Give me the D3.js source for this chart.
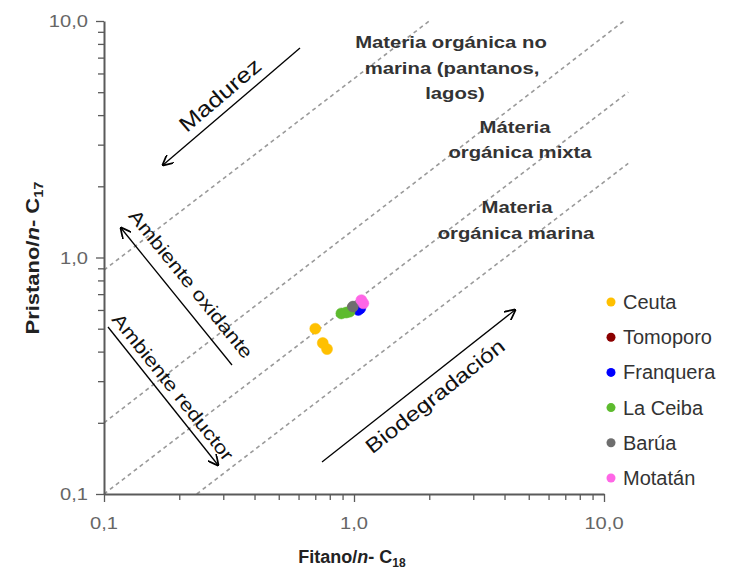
<!DOCTYPE html>
<html>
<head>
<meta charset="utf-8">
<script src="https://cdn.jsdelivr.net/npm/d3@7"></script>
<style>
  html, body { margin: 0; padding: 0; background: #fff; }
  svg { display: block; font-family: "Liberation Sans", Arial, sans-serif; }
</style>
</head>
<body>
<svg id="chart" width="740" height="577"></svg>
<script>
// Sample groups and their Pristano/n-C17 vs Fitano/n-C18 ratios
const categories = ["Ceuta", "Tomoporo", "Franquera", "La Ceiba", "Barúa", "Motatán"];
const ceutaFit = [0.70, 0.75, 0.78],       ceutaPri = [0.50, 0.435, 0.41];
const tomoporoFit = [0.99],                tomoporoPri = [0.615];
const franqueraFit = [1.04, 1.06],         franqueraPri = [0.60, 0.61];
const laCeibaFit = [0.89, 0.93, 0.96],     laCeibaPri = [0.58, 0.585, 0.59];
const baruaFit = [0.99],                   baruaPri = [0.62];
const motatanFit = [1.07, 1.09],           motatanPri = [0.66, 0.64];

const fitValues = [ceutaFit, tomoporoFit, franqueraFit, laCeibaFit, baruaFit, motatanFit];
const priValues = [ceutaPri, tomoporoPri, franqueraPri, laCeibaPri, baruaPri, motatanPri];
const seriesColors = ["#FFC000", "#8B0000", "#0000FF", "#5DBB2E", "#6E6E6E", "#FF66E6"];

// Boundary lines between organic-matter fields: [x0, y0, x1, y1]
const boundaryLines = [
  [0.1, 0.885, 2.0, 10],
  [0.1, 0.2, 12.0, 10],
  [0.1, 0.1, 12.5, 5.0],
  [0.235, 0.1, 12.5, 2.5]
];

// Axis tick labels
const majorTicks = [0.1, 1, 10];
const tickLabels = ["0,1", "1,0", "10,0"];

const svg = d3.select("#chart");
const x = d3.scaleLog().domain([0.1, 10]).range([104, 604]);
const y = d3.scaleLog().domain([0.1, 10]).range([494, 21]);

// Every decade tick 1..9 × 10^k
const allTicks = [];
[0.1, 1].forEach(b => { for (let i = 1; i <= 9; i++) allTicks.push(+(b * i).toFixed(2)); });
allTicks.push(10);
const isMajor = d => majorTicks.some(m => Math.abs(m - d) < 1e-9);
const labelOf = d => tickLabels[majorTicks.findIndex(m => Math.abs(m - d) < 1e-9)];

// Text helper: placed, rotated and widened along its own baseline
function stretchedText(parent, px, py, angle, sx) {
  return parent.append("g")
    .attr("transform", `translate(${px},${py}) rotate(${angle}) scale(${sx},1)`)
    .append("text");
}

// Dashed field boundaries
svg.append("g").selectAll("line").data(boundaryLines).join("line")
  .attr("x1", d => x(d[0])).attr("y1", d => y(d[1]))
  .attr("x2", d => x(d[2])).attr("y2", d => y(d[3]))
  .attr("stroke", "#9a9a9a").attr("stroke-width", 1.6)
  .attr("stroke-dasharray", "4,3.5");

// Axes
const axisColor = "#5a5a5a";
const xAxis = svg.append("g").attr("transform", `translate(0,${y(0.1)})`)
  .call(d3.axisBottom(x).tickValues(allTicks).tickFormat("").tickSizeOuter(0));
xAxis.selectAll(".tick line").attr("y2", d => isMajor(d) ? 8 : 6);

const yAxis = svg.append("g").attr("transform", `translate(${x(0.1)},0)`)
  .call(d3.axisLeft(y).tickValues(allTicks).tickFormat("").tickSizeOuter(0));
yAxis.selectAll(".tick line").attr("x2", d => isMajor(d) ? -8 : -6);

[xAxis, yAxis].forEach(a => {
  a.select(".domain").attr("stroke", axisColor).attr("stroke-width", 2);
  a.selectAll(".tick line").attr("stroke", axisColor).attr("stroke-width", 1.3);
});

// Tick labels
majorTicks.forEach(d => {
  stretchedText(svg, x(d), 529, 0, 1.22)
    .attr("text-anchor", "middle").attr("font-size", 16.5).attr("fill", "#666")
    .text(labelOf(d));
  stretchedText(svg, 88, y(d) + 6, 0, 1.22)
    .attr("text-anchor", "end").attr("font-size", 16.5).attr("fill", "#666")
    .text(labelOf(d));
});

// Axis titles
const xt = svg.append("text").attr("x", 352).attr("y", 563)
  .attr("text-anchor", "middle").attr("font-size", 18).attr("font-weight", "bold").attr("fill", "#222");
xt.append("tspan").text("Fitano/");
xt.append("tspan").attr("font-style", "italic").text("n");
xt.append("tspan").text("- C");
xt.append("tspan").attr("font-size", 12).attr("dy", 4).text("18");

const yt = stretchedText(svg, 39, 258, -90, 1.22)
  .attr("text-anchor", "middle").attr("font-size", 18).attr("font-weight", "bold").attr("fill", "#222");
yt.append("tspan").text("Pristano/");
yt.append("tspan").attr("font-style", "italic").text("n");
yt.append("tspan").text("- C");
yt.append("tspan").attr("font-size", 12).attr("dy", 4).text("17");

// Field labels
const fieldLabels = [
  ["Materia orgánica no", 451, 48],
  ["marina (pantanos,", 452, 74],
  ["lagos)", 455, 99],
  ["Máteria", 515, 133],
  ["orgánica mixta", 520, 158],
  ["Materia", 517, 213],
  ["orgánica marina", 516, 239]
];
fieldLabels.forEach(([t, px, py]) => {
  stretchedText(svg, px, py, 0, 1.23)
    .attr("text-anchor", "middle").attr("font-size", 16.5).attr("font-weight", "bold")
    .attr("fill", "#333").text(t);
});

// Trend arrows with labels
svg.append("defs").append("marker")
  .attr("id", "head").attr("viewBox", "0 0 10 10").attr("refX", 9).attr("refY", 5)
  .attr("markerWidth", 11).attr("markerHeight", 11).attr("markerUnits", "userSpaceOnUse")
  .attr("orient", "auto")
  .append("path").attr("d", "M0,0 L10,5 L0,10").attr("fill", "none")
  .attr("stroke", "#000").attr("stroke-width", 1.6);

const arrows = [
  { x1: 300, y1: 48, x2: 163, y2: 165, text: "Madurez", tx: 220, ty: 95, size: 21.5 },
  { x1: 232, y1: 365, x2: 121, y2: 228, text: "Ambiente oxidante", tx: 191, ty: 284, size: 18.6 },
  { x1: 108, y1: 327, x2: 218, y2: 465, text: "Ambiente reductor", tx: 173, ty: 387, size: 18.6 },
  { x1: 322, y1: 462, x2: 515, y2: 310, text: "Biodegradación", tx: 435, ty: 396, size: 20.5 }
];
arrows.forEach(a => {
  svg.append("line").attr("x1", a.x1).attr("y1", a.y1).attr("x2", a.x2).attr("y2", a.y2)
    .attr("stroke", "#000").attr("stroke-width", 1.3).attr("marker-end", "url(#head)");
  let ang = Math.atan2(a.y2 - a.y1, a.x2 - a.x1) * 180 / Math.PI;
  if (ang > 90) ang -= 180;
  if (ang < -90) ang += 180;
  stretchedText(svg, a.tx, a.ty, ang, 1.2)
    .attr("text-anchor", "middle").attr("dy", "0.35em")
    .attr("font-size", a.size).attr("fill", "#111").text(a.text);
});

// Sample points
categories.forEach((c, i) => {
  const pts = fitValues[i].map((f, j) => [f, priValues[i][j]]);
  svg.append("g").selectAll("circle").data(pts).join("circle")
    .attr("cx", d => x(d[0])).attr("cy", d => y(d[1])).attr("r", 5.5)
    .attr("fill", seriesColors[i]).attr("stroke", seriesColors[i]).attr("stroke-opacity", 0.5)
    .attr("stroke-width", 1);
});

// Legend
const legend = svg.append("g").attr("transform", "translate(611,302)");
categories.forEach((c, i) => {
  const row = legend.append("g").attr("transform", `translate(0,${i * 35.2})`);
  row.append("circle").attr("r", 4.5).attr("fill", seriesColors[i]);
  row.append("text").attr("x", 12).attr("dy", "0.35em").attr("font-size", 20)
    .attr("fill", "#333").text(c);
});
</script>
</body>
</html>
